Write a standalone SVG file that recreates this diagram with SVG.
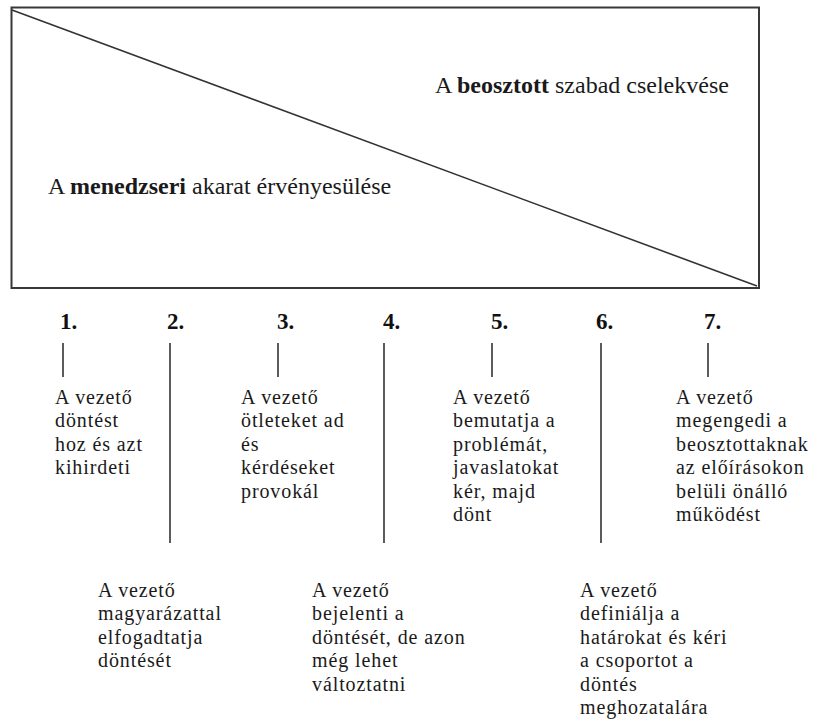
<svg xmlns="http://www.w3.org/2000/svg" width="816" height="723" viewBox="0 0 816 723">
  <style>
    .frame { fill: none; stroke: #383838; stroke-width: 2; }
    .diag { stroke: #333; stroke-width: 1.6; }
    .head { font-family: "Liberation Serif", "Times New Roman", serif; font-size: 24px; fill: #1a1a1a; }
    .num { font-family: "Liberation Serif", "Times New Roman", serif; font-size: 23px; font-weight: bold; fill: #111; }
    .item { font-family: "Liberation Serif", "Times New Roman", serif; font-size: 20px; letter-spacing: 0.9px; fill: #1a1a1a; }
    .tick { stroke: #333; stroke-width: 1.6; }
    b, .b { font-weight: bold; }
  </style>

  <!-- Continuum box with the dividing diagonal -->
  <g id="continuum">
    <rect class="frame" x="11.5" y="7.5" width="747.5" height="280.5"/>
    <line class="diag" x1="12" y1="10" x2="757" y2="286"/>
    <text class="head" x="435" y="93">A <tspan class="b">beosztott</tspan> szabad cselekvése</text>
    <text class="head" x="48" y="194">A <tspan class="b">menedzseri</tspan> akarat érvényesülése</text>
  </g>

  <!-- Step numbers -->
  <g id="numbers">
    <text class="num" x="60" y="329">1.</text>
    <text class="num" x="167" y="329">2.</text>
    <text class="num" x="277" y="329">3.</text>
    <text class="num" x="383" y="329">4.</text>
    <text class="num" x="491" y="329">5.</text>
    <text class="num" x="596" y="329">6.</text>
    <text class="num" x="704" y="329">7.</text>
  </g>

  <!-- Leader lines from each number to its description -->
  <g id="connectors">
    <line class="tick" x1="63" y1="343" x2="63" y2="377"/>
    <line class="tick" x1="170" y1="343" x2="170" y2="543"/>
    <line class="tick" x1="278" y1="343" x2="278" y2="377"/>
    <line class="tick" x1="384" y1="343" x2="384" y2="543"/>
    <line class="tick" x1="492" y1="343" x2="492" y2="377"/>
    <line class="tick" x1="601" y1="343" x2="601" y2="543"/>
    <line class="tick" x1="708" y1="343" x2="708" y2="377"/>
  </g>

  <g id="step1" class="item">
    <text class="item" x="55" y="404">A vezető</text>
    <text class="item" x="55" y="427.4">döntést</text>
    <text class="item" x="55" y="450.8">hoz és azt</text>
    <text class="item" x="55" y="474.2">kihirdeti</text>
  </g>

  <g id="step2">
    <text class="item" x="98" y="597">A vezető</text>
    <text class="item" x="98" y="620.4">magyarázattal</text>
    <text class="item" x="98" y="643.8">elfogadtatja</text>
    <text class="item" x="98" y="667.2">döntését</text>
  </g>

  <g id="step3">
    <text class="item" x="241" y="404">A vezető</text>
    <text class="item" x="241" y="427.4">ötleteket ad</text>
    <text class="item" x="241" y="450.8">és</text>
    <text class="item" x="241" y="474.2">kérdéseket</text>
    <text class="item" x="241" y="497.6">provokál</text>
  </g>

  <g id="step4">
    <text class="item" x="312" y="597">A vezető</text>
    <text class="item" x="312" y="620.4">bejelenti a</text>
    <text class="item" x="312" y="643.8">döntését, de azon</text>
    <text class="item" x="312" y="667.2">még lehet</text>
    <text class="item" x="312" y="690.6">változtatni</text>
  </g>

  <g id="step5">
    <text class="item" x="453" y="404">A vezető</text>
    <text class="item" x="453" y="427.4">bemutatja a</text>
    <text class="item" x="453" y="450.8">problémát,</text>
    <text class="item" x="453" y="474.2">javaslatokat</text>
    <text class="item" x="453" y="497.6">kér, majd</text>
    <text class="item" x="453" y="521">dönt</text>
  </g>

  <g id="step6">
    <text class="item" x="580" y="597">A vezető</text>
    <text class="item" x="580" y="620.4">definiálja a</text>
    <text class="item" x="580" y="643.8">határokat és kéri</text>
    <text class="item" x="580" y="667.2">a csoportot a</text>
    <text class="item" x="580" y="690.6">döntés</text>
    <text class="item" x="580" y="714">meghozatalára</text>
  </g>

  <g id="step7">
    <text class="item" x="676" y="404">A vezető</text>
    <text class="item" x="676" y="427.4">megengedi a</text>
    <text class="item" x="676" y="450.8">beosztottaknak</text>
    <text class="item" x="676" y="474.2">az előírásokon</text>
    <text class="item" x="676" y="497.6">belüli önálló</text>
    <text class="item" x="676" y="521">működést</text>
  </g>
</svg>
